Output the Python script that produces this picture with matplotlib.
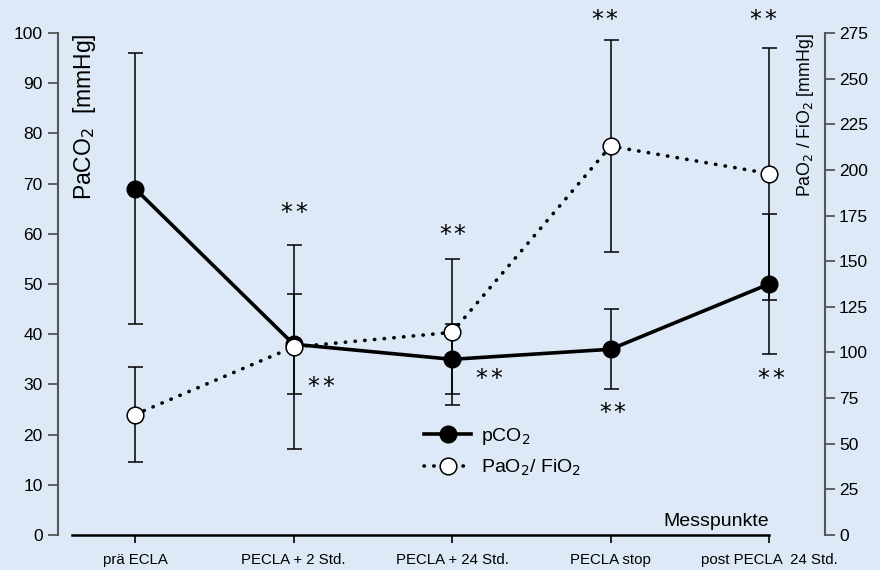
import matplotlib
matplotlib.use("Agg")
import matplotlib.pyplot as plt
import matplotlib.transforms as mtransforms
import numpy as np

plt.rcParams['font.family'] = ['Liberation Sans', 'DejaVu Sans']

categories = ["prä ECLA", "PECLA + 2 Std.", "PECLA + 24 Std.", "PECLA stop", "post PECLA  24 Std."]
pco2 = [69, 38, 35, 37, 50]
pco2_err = [27, 10, 7, 8, 14]
pao2_fio2 = [66, 103, 111, 213, 198]
pao2_fio2_err = [26, 56, 40, 58, 69]

# significance markers: (category index, value on left scale, x offset in category units)
stars_left = [(1, 64.7, 0.0), (1, 29.9, 0.17), (2, 60.2, 0.0), (2, 31.5, 0.23),
              (3, 103.0, -0.04), (3, 24.9, 0.01), (4, 103.0, -0.04), (4, 31.5, 0.01)]

bg = '#dde9f6'
fig = plt.figure(figsize=(8.8, 5.7), dpi=100, facecolor=bg)
ax = fig.add_axes([58/880, 1-535/570, (825-58)/880, (535-33)/570])
ax.set_facecolor(bg)
ax2 = ax.twinx()
ax2.set_facecolor('none')

x = np.arange(len(categories))

# error bars
ax.errorbar(x, pco2, yerr=pco2_err, fmt='none', ecolor='black', elinewidth=1.1,
            capsize=5.4, capthick=1.1, zorder=2)
ax2.errorbar(x, pao2_fio2, yerr=pao2_fio2_err, fmt='none', ecolor='black', elinewidth=1.1,
             capsize=5.4, capthick=1.1, zorder=2)

# lines
l2, = ax2.plot(x, pao2_fio2, linestyle=(0, (0.1, 2.6)), lw=2.6, color='black',
               dash_capstyle='round', marker='o', ms=12, mfc='white', mec='black', mew=1.1,
               zorder=3, label='PaO$_2$/ FiO$_2$')
l1, = ax2.plot([], [], color='black', lw=2.6, marker='o', ms=12, label='pCO$_2$')
ax.plot(x, pco2, color='black', lw=2.6, marker='o', ms=12, mfc='black', mec='black', zorder=4)

ax.set_xlim(-0.486, 4.353)
ax.set_ylim(0, 100)
ax2.set_ylim(0, 275)
ax.set_yticks(np.arange(0, 101, 10))
ax2.set_yticks(np.arange(0, 276, 25))
ax.set_xticks(x)
ax.set_xticklabels(categories, fontsize=10.8)

for s in ['top', 'right']:
    ax.spines[s].set_visible(False)
for s in ['top', 'left', 'bottom']:
    ax2.spines[s].set_visible(False)
gray = '#555555'
ax.spines['left'].set_color(gray)
ax.spines['left'].set_linewidth(1.5)
ax2.spines['right'].set_color(gray)
ax2.spines['right'].set_linewidth(1.5)
ax.spines['bottom'].set_bounds(-0.4, 4)
ax.spines['bottom'].set_linewidth(1.8)
ax.spines['bottom'].set_color('black')

ax.tick_params(axis='y', colors=gray, labelcolor='black', length=7, width=1.3, labelsize=12.5, pad=4)
ax2.tick_params(axis='y', colors=gray, labelcolor='black', length=7, width=1.3, labelsize=12.5, pad=3)
ax.tick_params(axis='x', length=6, width=1.2, color='black', pad=7)

ax.text(0.034, 1.0, 'PaCO$_2$  [mmHg]', rotation=90, va='top', ha='center',
        transform=ax.transAxes, fontsize=16.5)
ax.text(0.974, 1.0, 'PaO$_2$ / FiO$_2$ [mmHg]', rotation=90, va='top', ha='center',
        transform=ax.transAxes, fontsize=12.8)
ax.text(4.0, 0.9, 'Messpunkte', ha='right', va='bottom', fontsize=14)

for i, yv, dx in stars_left:
    for off in (-7.3, 7.3):
        tr = ax.transData + mtransforms.ScaledTranslation(off / 100, 0, fig.dpi_scale_trans)
        ax.text(i + dx, yv, '*', ha='center', va='center_baseline', fontsize=17,
                family='DejaVu Sans', clip_on=False, transform=tr)

leg = ax2.legend(handles=[l1, l2], loc='upper left', bbox_to_anchor=(0.455, 0.252),
                 frameon=False, fontsize=14, handlelength=2.4, handletextpad=0.5,
                 labelspacing=0.55)

fig.savefig('out.png', dpi=100, facecolor=bg)
